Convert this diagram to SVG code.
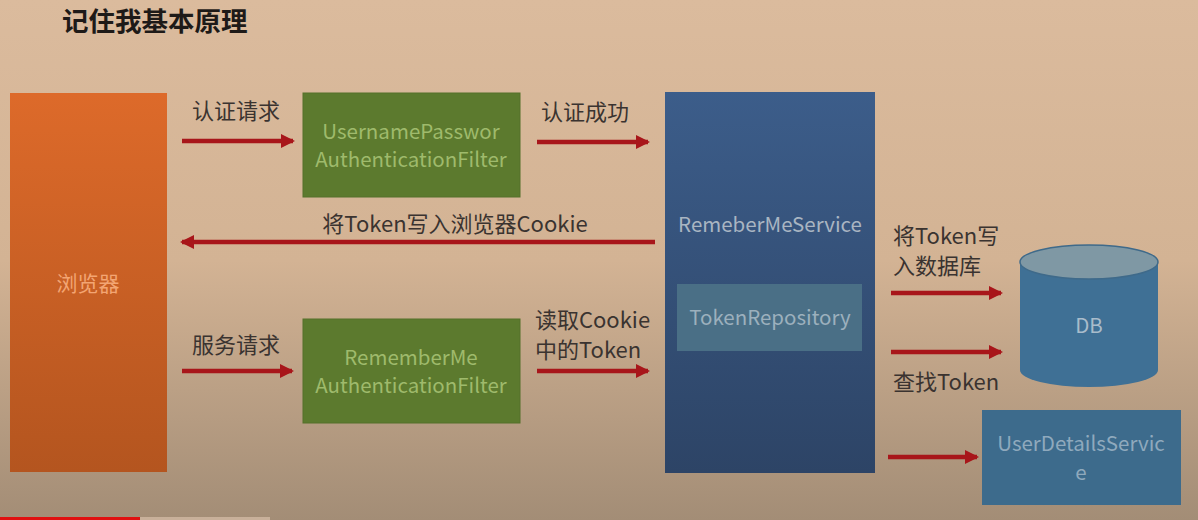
<svg xmlns="http://www.w3.org/2000/svg" width="1198" height="520" viewBox="0 0 1198 520">
<defs>
<linearGradient id="bg" x1="0" y1="0" x2="0" y2="1">
<stop offset="0" stop-color="#dbbb9d"/>
<stop offset="0.5" stop-color="#d3b394"/>
<stop offset="1" stop-color="#a38d76"/>
</linearGradient>
<linearGradient id="orange" x1="0" y1="0" x2="0" y2="1">
<stop offset="0" stop-color="#dd6a2a"/>
<stop offset="1" stop-color="#b4551f"/>
</linearGradient>
<linearGradient id="blue" x1="0" y1="0" x2="0" y2="1">
<stop offset="0" stop-color="#3c5d8a"/>
<stop offset="1" stop-color="#2d4466"/>
</linearGradient>
<marker id="ah" viewBox="0 0 14 14" refX="12" refY="7" markerWidth="14" markerHeight="14" markerUnits="userSpaceOnUse" orient="auto">
<path d="M0,0 L14,7 L0,14 Z" fill="#a8161a"/>
</marker>
<style>
.lbl{font-family:"Noto Sans CJK SC","Noto Sans",sans-serif;font-size:22px;fill:#3a3330}
.nt{font-family:"Noto Sans CJK SC","Noto Sans",sans-serif;font-size:20.5px;text-anchor:middle}
.green{fill:#5c7a2e;stroke:#55702a;stroke-width:1}
.gt{fill:#9fba6c}
.bt{fill:#a9b5c2}
.arr{stroke:#a8161a;stroke-width:4.5;fill:none;marker-end:url(#ah)}
</style>
</defs>
<rect x="0" y="0" width="1198" height="520" fill="url(#bg)"/>
<text x="62" y="31" style="font-family:'Noto Sans CJK SC',sans-serif;font-size:26.5px;font-weight:bold;fill:#1e1a18">记住我基本原理</text>

<g id="browser">
<rect x="10" y="93" width="157" height="379" fill="url(#orange)"/>
<text x="88" y="291" class="nt" style="fill:#f3a573;font-size:21px">浏览器</text>
</g>
<g id="upfilter">
<rect x="303" y="93" width="217" height="104" class="green"/>
<text class="nt gt"><tspan x="411" y="139">UsernamePasswor</tspan><tspan x="411" y="167">AuthenticationFilter</tspan></text>
</g>
<g id="rmfilter">
<rect x="303" y="319" width="217" height="104" class="green"/>
<text class="nt gt"><tspan x="411" y="365">RememberMe</tspan><tspan x="411" y="393">AuthenticationFilter</tspan></text>
</g>
<g id="rmservice">
<rect x="665" y="92" width="210" height="381" fill="url(#blue)"/>
<text x="770" y="232" class="nt bt">RemeberMeService</text>
</g>
<g id="tokenrepo">
<rect x="677" y="284" width="185" height="67" fill="#4a6f86"/>
<text x="770" y="325" class="nt" style="fill:#9cb0bd">TokenRepository</text>
</g>
<g id="db">
<path d="M1020,262 L1020,370 A69,17 0 0 0 1158,370 L1158,262 Z" fill="#3f7095"/>
<ellipse cx="1089" cy="262" rx="69" ry="17" fill="#7f98a4" stroke="#3f6a8a" stroke-width="1.5"/>
<text x="1089" y="333" class="nt" style="fill:#a9bccb">DB</text>
</g>
<g id="uds">
<rect x="982" y="410" width="199" height="95" fill="#3d6b8c"/>
<text class="nt" style="fill:#8fa9bd"><tspan x="1081" y="451">UserDetailsServic</tspan><tspan x="1081" y="480">e</tspan></text>
</g>

<g id="connectors">
<line x1="182" y1="141" x2="293" y2="141" class="arr"/>
<line x1="537" y1="142" x2="648" y2="142" class="arr"/>
<line x1="655" y1="242" x2="182" y2="242" class="arr"/>
<line x1="182" y1="371" x2="292" y2="371" class="arr"/>
<line x1="537" y1="371" x2="648" y2="371" class="arr"/>
<line x1="891" y1="293" x2="1001" y2="293" class="arr"/>
<line x1="891" y1="352" x2="1001" y2="352" class="arr"/>
<line x1="888" y1="457" x2="977" y2="457" class="arr"/>
<text x="192" y="119" class="lbl">认证请求</text>
<text x="541" y="120" class="lbl">认证成功</text>
<text x="455" y="232" class="lbl" text-anchor="middle">将Token写入浏览器Cookie</text>
<text x="192" y="353" class="lbl">服务请求</text>
<text class="lbl"><tspan x="535" y="328">读取Cookie</tspan><tspan x="535" y="358">中的Token</tspan></text>
<text class="lbl"><tspan x="893" y="244">将Token写</tspan><tspan x="893" y="274">入数据库</tspan></text>
<text x="893" y="390" class="lbl">查找Token</text>
</g>
<rect x="0" y="517" width="140" height="3" fill="#e01010"/>
<rect x="140" y="517" width="130" height="3" fill="#c8b09a"/>
</svg>
